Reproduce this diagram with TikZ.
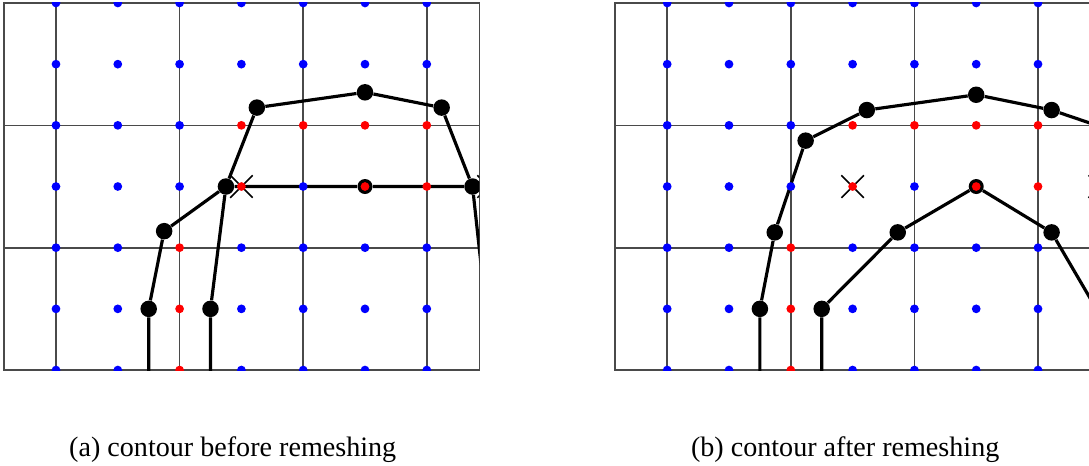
\documentclass[tikz,border=0pt]{standalone}
\usepackage{fontspec}
\setmainfont{Liberation Serif}
\usetikzlibrary{shapes.misc}
\definecolor{gridGray}{HTML}{4A4A4A}

\begin{document}
\begin{tikzpicture}[
  x=1.236cm, y=1.2234cm,
  gridline/.style={draw=gridGray,line width=0.95pt},
  smp/.style={circle,inner sep=0pt,minimum size=1.75mm},
  vtx/.style={circle,fill=black,inner sep=0pt,minimum size=3.3mm},
  ring/.style={circle,fill=black,inner sep=0pt,minimum size=3.0mm},
  contour/.style={line width=1.8pt,line join=round},
  xmark/.style={draw,cross out,line width=0.9pt,inner sep=0pt,minimum size=4.2mm},
  caption/.style={font=\fontsize{16}{18}\selectfont}
]
\useasboundingbox (-0.906,0.049) rectangle (16.715,-7.553);

% frames and coarse grid
\foreach \sx in {0,9.89} {
  \begin{scope}[shift={(\sx,0)}]
    \draw[gridline] (0,0) -- (0,-6) (2,0) -- (2,-6) (4,0) -- (4,-6) (6,0) -- (6,-6);
    \draw[gridline] (-0.84,-2) -- (6.85,-2) (-0.84,-4) -- (6.85,-4);
    \draw[gridline] (-0.84,0) rectangle (6.85,-6);
  \end{scope}
}

% (a) contour before remeshing
\begin{scope}
  \clip (-0.84,0) rectangle (6.85,-6);
  \node[vtx] (la) at (1.5,-5) {};
  \node[vtx] (lb) at (1.75,-3.73) {};
  \node[vtx] (lc) at (2.75,-3) {};
  \node[vtx] (ld) at (3.25,-1.71) {};
  \node[vtx] (le) at (5,-1.46) {};
  \node[vtx] (lf) at (6.24,-1.71) {};
  \node[vtx] (lg) at (6.74,-3) {};
  \node[vtx] (lh) at (2.5,-5) {};
  \node[ring] (lr) at (5,-3) {};
  \coordinate (lin1) at (1.5,-6.1);
  \coordinate (lin2) at (2.5,-6.1);
  \coordinate (lout) at (6.88,-4.3);
  \draw[contour] (lin1) -- (la) -- (lb) -- (lc) -- (ld) -- (le) -- (lf) -- (lg) -- (lout);
  \draw[contour] (lin2) -- (lh) -- (lc) -- (lr) -- (lg);
\end{scope}

% (b) contour after remeshing
\begin{scope}[shift={(9.89,0)}]
  \clip (-0.84,0) rectangle (6.85,-6);
  \node[vtx] (ra) at (1.5,-5) {};
  \node[vtx] (rb) at (1.74,-3.75) {};
  \node[vtx] (rc) at (2.24,-2.25) {};
  \node[vtx] (rd) at (3.23,-1.75) {};
  \node[vtx] (re) at (5,-1.5) {};
  \node[vtx] (rf) at (6.22,-1.75) {};
  \node[vtx] (rh) at (2.5,-5) {};
  \node[vtx] (rk) at (3.73,-3.75) {};
  \node[ring] (rr) at (5,-3) {};
  \node[vtx] (rm) at (6.22,-3.75) {};
  \coordinate (rin1) at (1.5,-6.1);
  \coordinate (rin2) at (2.5,-6.1);
  \coordinate (rout1) at (7.3,-2.12);
  \coordinate (rout2) at (7.1,-5.27);
  \draw[contour] (rin1) -- (ra) -- (rb) -- (rc) -- (rd) -- (re) -- (rf) -- (rout1);
  \draw[contour] (rin2) -- (rh) -- (rk) -- (rr) -- (rm) -- (rout2);
\end{scope}

% crosses, then sample points (red where the level set is crossed)
\foreach \sx/\p in {0/a,9.89/b} {
  \begin{scope}[shift={(\sx,0)}]
    \clip (-0.84,0) rectangle (6.85,-6);
    \node[xmark] (\p x3) at (3,-3) {};
    \node[xmark] (\p x7) at (7,-3) {};
    \foreach \i in {0,...,6} \foreach \j in {0,...,6} {
      \pgfmathtruncatemacro\isred{(\j==2 && \i>2) || (\j==3 && (\i==3 || \i>4)) || (\j>3 && \i==2)}
      \ifnum\isred=1 \def\dotcol{red}\else\def\dotcol{blue}\fi
      \node[smp,fill=\dotcol] (\p\i\j) at (\i,-\j) {};
    }
  \end{scope}
}

\node[caption] (capa) at (2.86,-7.3) {(a) contour before remeshing};
\node[caption] (capb) at (12.77,-7.3) {(b) contour after remeshing};
\end{tikzpicture}
\end{document}
